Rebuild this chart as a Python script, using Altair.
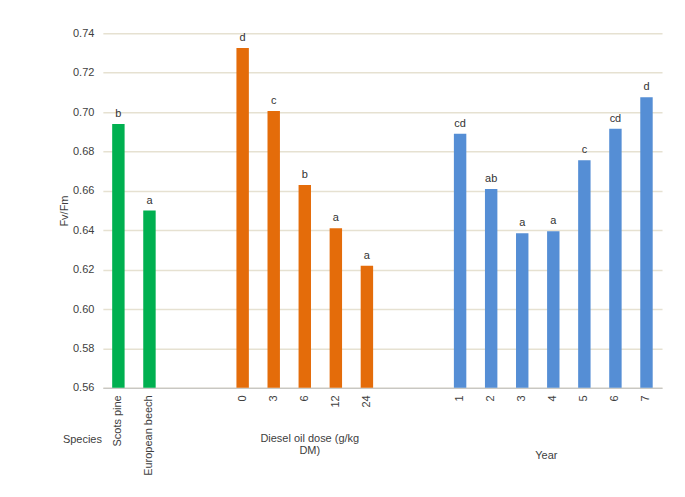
import altair as alt
import pandas as pd

# ---- data ----
species = ["Scots pine", "European beech"]
species_fvfm = [0.694, 0.650]
species_letters = ["b", "a"]

doses = ["0", "3", "6", "12", "24"]
dose_fvfm = [0.7325, 0.7005, 0.663, 0.641, 0.622]
dose_letters = ["d", "c", "b", "a", "a"]

years = ["1", "2", "3", "4", "5", "6", "7"]
year_fvfm = [0.689, 0.661, 0.6385, 0.6395, 0.6755, 0.6915, 0.7075]
year_letters = ["cd", "ab", "a", "a", "c", "cd", "d"]

group_titles = ["Species", "Diesel oil dose (g/kg\nDM)", "Year"]
y_ticks = [0.56, 0.58, 0.60, 0.62, 0.64, 0.66, 0.68, 0.70, 0.72, 0.74]

GREEN = "#00B050"
ORANGE = "#E46C0A"
BLUE = "#558ED5"

rows = []
for s, v, l in zip(species, species_fvfm, species_letters):
    rows.append({"key": s, "val": v, "letter": l, "grp": "Species"})
for d, v, l in zip(doses, dose_fvfm, dose_letters):
    rows.append({"key": "dose " + d, "val": v, "letter": l, "grp": "Dose"})
for y, v, l in zip(years, year_fvfm, year_letters):
    rows.append({"key": "year " + y, "val": v, "letter": l, "grp": "Year"})
df = pd.DataFrame(rows)

domain = (species + ["_gap1", "_gap2"] + ["dose " + d for d in doses]
          + ["_gap3", "_gap4"] + ["year " + y for y in years])

FONT = "Liberation Sans"
TXT = "#404040"

x_scale = alt.Scale(domain=domain, paddingInner=0.6, paddingOuter=0.3)
y_scale = alt.Scale(domain=[0.56, 0.74], nice=False, zero=False)

label_expr = ("indexof(datum.value, '_gap') == 0 ? '' : "
              "replace(replace(datum.value, 'dose ', ''), 'year ', '')")

x_axis = alt.Axis(title=None, labelAngle=-90, labelExpr=label_expr,
                  ticks=False, domainColor="#BFBFBF", labelPadding=7,
                  labelFontSize=11, labelColor=TXT, labelFont=FONT,
                  grid=False, labelOverlap=False)
y_axis = alt.Axis(title="Fv/Fm", values=y_ticks, format=".2f",
                  domain=False, ticks=False, labelPadding=9,
                  grid=True, gridColor="#E6E1D1", gridWidth=1.5,
                  labelFontSize=11, labelColor=TXT, labelFont=FONT,
                  labelOverlap=False,
                  titleFontSize=11, titleFontWeight="normal",
                  titleColor=TXT, titleFont=FONT, titlePadding=3)

X = alt.X("key:N", scale=x_scale, sort=domain, axis=x_axis)
Y = alt.Y("val:Q", scale=y_scale, axis=y_axis)

base = alt.Chart(df)

bars = base.mark_bar(clip=True).encode(
    x=X,
    y=Y,
    color=alt.Color("grp:N",
                    scale=alt.Scale(domain=["Species", "Dose", "Year"],
                                    range=[GREEN, ORANGE, BLUE]),
                    legend=None),
)

letters = base.mark_text(baseline="bottom", dy=-5, fontSize=11,
                         font=FONT, color="#333333").encode(
    x=X,
    y=Y,
    text="letter:N",
)

gdf = pd.DataFrame({
    "key": ["Scots pine", "dose 6", "year 4"],
    "title": group_titles,
    "dx": [-36, 5, -7],
    "ypos": [407, 406, 423],
})

group_layers = []
for i in range(len(gdf)):
    sub = gdf.iloc[[i]]
    group_layers.append(
        alt.Chart(sub).mark_text(fontSize=11, font=FONT, color=TXT,
                                 baseline="middle", align="center",
                                 lineBreak="\n", lineHeight=12,
                                 dx=int(sub["dx"].iloc[0])).encode(
            x=X,
            y=alt.value(int(sub["ypos"].iloc[0])),
            text="title:N",
        )
    )

chart = alt.layer(bars, letters, *group_layers).properties(
    width=560, height=355,
    background="white",
    autosize=alt.AutoSizeParams(type="none"),
    padding={"left": 95, "top": 25, "right": 15, "bottom": 100},
).configure_view(stroke=None)

chart.save("out.html", embed_options={"renderer": "svg", "actions": False})
